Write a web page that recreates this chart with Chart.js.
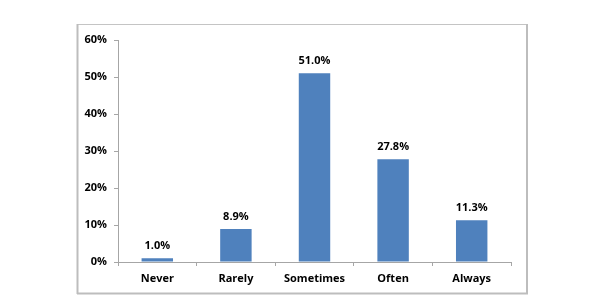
<!DOCTYPE html>
<html>
<head>
<meta charset="utf-8">
<script src="https://cdn.jsdelivr.net/npm/chart.js@4/dist/chart.umd.min.js"></script>
<style>
html,body{margin:0;padding:0;background:#fff;}
#wrap{width:600px;height:307px;}
</style>
</head>
<body>
<div id="wrap"><canvas id="c" width="600" height="307"></canvas></div>
<script>
const categories = ["Never", "Rarely", "Sometimes", "Often", "Always"];
const values = [1.0, 8.9, 51.0, 27.8, 11.3];
const yTicks = [0, 10, 20, 30, 40, 50, 60];

const FONT = "'Open Sans', Lato, sans-serif";

const framePlugin = {
  id: 'frame',
  beforeDraw(chart) {
    const ctx = chart.ctx;
    ctx.save();
    ctx.fillStyle = '#fff';
    ctx.fillRect(0, 0, chart.width, chart.height);
    ctx.strokeStyle = '#c4c4c4';
    ctx.lineWidth = 1;
    ctx.beginPath();
    ctx.moveTo(77, 24.5); ctx.lineTo(527, 24.5);
    ctx.stroke();
    ctx.strokeStyle = '#bdbdbd';
    ctx.lineWidth = 2;
    ctx.beginPath();
    ctx.moveTo(77.5, 24); ctx.lineTo(77.5, 294);
    ctx.moveTo(527, 24); ctx.lineTo(527, 294);
    ctx.moveTo(77, 293.5); ctx.lineTo(528, 293.5);
    ctx.stroke();
    ctx.restore();
  }
};

const labelPlugin = {
  id: 'barLabels',
  afterDatasetsDraw(chart) {
    const ctx = chart.ctx;
    const meta = chart.getDatasetMeta(0);
    ctx.save();
    ctx.font = "bold 11px " + FONT;
    ctx.fillStyle = '#000';
    ctx.textAlign = 'center';
    ctx.textBaseline = 'bottom';
    meta.data.forEach((bar, i) => {
      ctx.fillText(values[i].toFixed(1) + '%', bar.x, bar.y - 7);
    });
    ctx.restore();
  }
};

new Chart(document.getElementById('c'), {
  type: 'bar',
  data: {
    labels: categories,
    datasets: [{
      data: values,
      backgroundColor: '#4F81BD',
      borderWidth: 0,
      categoryPercentage: 0.4,
      barPercentage: 1.0
    }]
  },
  options: {
    responsive: false,
    animation: false,
    devicePixelRatio: 1,
    layout: { padding: { left: 80, right: 89, top: 40, bottom: 17 } },
    plugins: { legend: { display: false }, tooltip: { enabled: false } },
    scales: {
      x: {
        offset: true,
        grid: { offset: true, drawOnChartArea: false, drawTicks: true, tickLength: 4, color: '#a6a6a6', lineWidth: 1 },
        border: { color: '#a6a6a6', width: 1 },
        ticks: { font: { family: FONT, size: 11, weight: 'bold' }, color: '#000', padding: 6, maxRotation: 0 },
        afterFit(s) { s.height = 28; }
      },
      y: {
        min: 0, max: 60,
        afterBuildTicks(s) { s.ticks = yTicks.map(v => ({ value: v })); },
        grid: { drawOnChartArea: false, drawTicks: true, tickLength: 4, color: '#a6a6a6', lineWidth: 1 },
        border: { color: '#a6a6a6', width: 1 },
        ticks: { font: { family: FONT, size: 11, weight: 'bold' }, color: '#000', padding: 7, callback: v => v + '%' },
        afterFit(s) { s.width = 38; }
      }
    }
  },
  plugins: [framePlugin, labelPlugin]
});
</script>
</body>
</html>
